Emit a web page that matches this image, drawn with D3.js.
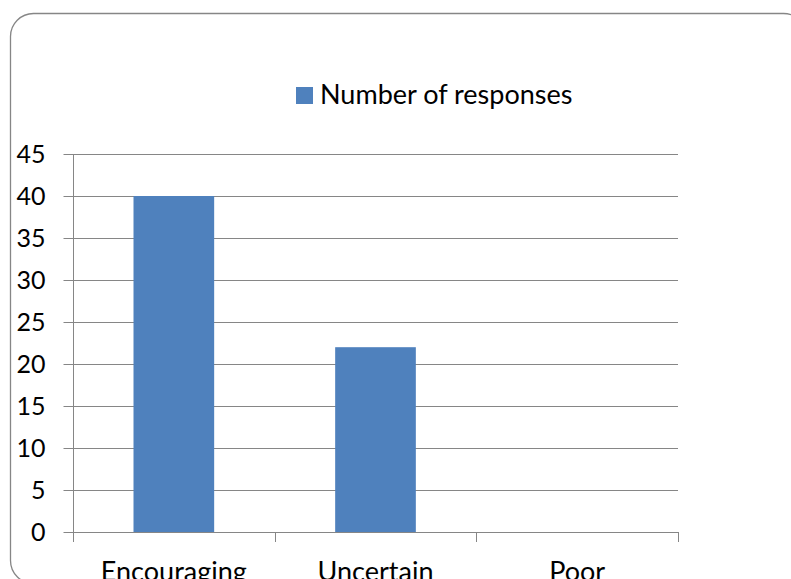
<!DOCTYPE html>
<html>
<head>
<meta charset="utf-8">
<script src="https://cdn.jsdelivr.net/npm/d3@7"></script>
<style>
  html, body { margin: 0; padding: 0; background: #fff; overflow: hidden; }
  svg { display: block; font-family: Lato, "Open Sans", sans-serif; }
</style>
</head>
<body>
<svg id="chart" width="791" height="579"></svg>
<script>
// Survey results: number of responses per outlook category
const categories = ["Encouraging", "Uncertain", "Poor"];
const responses = [40, 22, 0];
const yTicks = [0, 5, 10, 15, 20, 25, 30, 35, 40, 45];
const seriesName = "Number of responses";

const W = 791, H = 579;
const plot = { left: 73, right: 678, top: 154, bottom: 532 };
const barColor = "#4F81BD";
const lineColor = "#868686";
const fontSize = 27;
const tickFontSize = 25;

const svg = d3.select("#chart");

// Rounded chart-area frame
svg.append("rect")
  .attr("x", 10.5).attr("y", 13.5)
  .attr("width", 796).attr("height", 570)
  .attr("rx", 23).attr("ry", 23)
  .attr("fill", "#fff")
  .attr("stroke", lineColor)
  .attr("stroke-width", 1.3);

const x = d3.scaleBand()
  .domain(categories)
  .range([plot.left, plot.right])
  .paddingInner(0).paddingOuter(0);

const y = d3.scaleLinear()
  .domain([0, 45])
  .range([plot.bottom, plot.top]);

// Horizontal gridlines
svg.append("g")
  .selectAll("line")
  .data(yTicks)
  .join("line")
  .attr("x1", plot.left).attr("x2", plot.right)
  .attr("y1", d => Math.round(y(d)) + 0.5)
  .attr("y2", d => Math.round(y(d)) + 0.5)
  .attr("stroke", lineColor)
  .attr("stroke-width", 1);

// Y axis
const yAxis = svg.append("g")
  .attr("transform", `translate(${plot.left + 0.5},0)`)
  .call(d3.axisLeft(y).tickValues(yTicks).tickSize(10).tickPadding(18).tickFormat(d3.format("d")));
yAxis.select(".domain").attr("stroke", lineColor).attr("d", `M0,${plot.top}V${plot.bottom}`);
yAxis.selectAll(".tick line").attr("stroke", lineColor);
yAxis.selectAll(".tick text")
  .attr("font-size", tickFontSize)
  .attr("font-family", "Lato, 'Open Sans', sans-serif")
  .attr("fill", "#000");

// Bars
const barWidth = x.bandwidth() * 0.4;
svg.append("g")
  .selectAll("rect")
  .data(categories.map((c, i) => ({ c, v: responses[i] })))
  .join("rect")
  .attr("x", d => x(d.c) + (x.bandwidth() - barWidth) / 2)
  .attr("y", d => y(d.v))
  .attr("width", barWidth)
  .attr("height", d => y(0) - y(d.v))
  .attr("fill", barColor);

// X axis baseline with category boundary ticks
const xAxis = svg.append("g");
xAxis.append("line")
  .attr("x1", plot.left).attr("x2", plot.right)
  .attr("y1", plot.bottom + 0.5).attr("y2", plot.bottom + 0.5)
  .attr("stroke", lineColor);
const boundaries = categories.map(c => x(c)).concat([plot.right]);
xAxis.selectAll("line.tick")
  .data(boundaries)
  .join("line")
  .attr("class", "tick")
  .attr("x1", d => Math.round(d) + 0.5).attr("x2", d => Math.round(d) + 0.5)
  .attr("y1", plot.bottom).attr("y2", plot.bottom + 10)
  .attr("stroke", lineColor);
xAxis.selectAll("text")
  .data(categories)
  .join("text")
  .attr("x", d => x(d) + x.bandwidth() / 2)
  .attr("y", 581)
  .attr("text-anchor", "middle")
  .attr("font-size", fontSize)
  .attr("fill", "#000")
  .text(d => d);

// Legend
const legend = svg.append("g").attr("transform", "translate(296,87)");
legend.append("rect").attr("width", 17).attr("height", 17).attr("fill", barColor);
legend.append("text")
  .attr("x", 24).attr("y", 17)
  .attr("font-size", fontSize)
  .attr("fill", "#000")
  .text(seriesName);
</script>
</body>
</html>
